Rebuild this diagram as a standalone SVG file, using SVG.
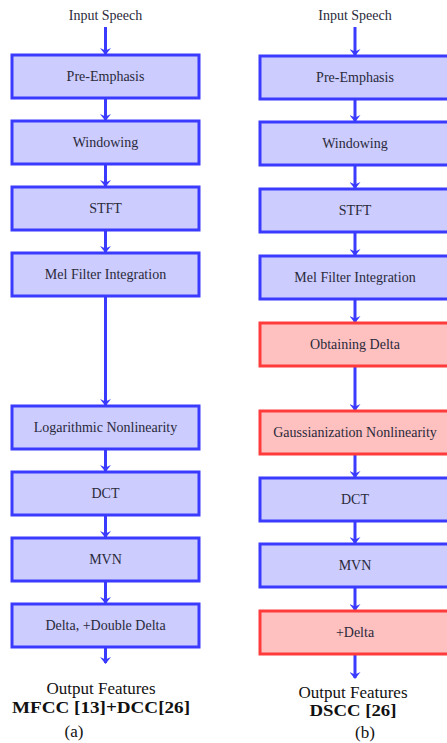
<svg xmlns="http://www.w3.org/2000/svg" width="447" height="743" viewBox="0 0 447 743">
<style>
.b{fill:#ccccff;stroke:#3b3bff;stroke-width:3}
.r{fill:#ffc0c0;stroke:#ff3b3b;stroke-width:3}
text{font-family:'Liberation Serif','Times New Roman','DejaVu Serif',serif}
.t{font-size:14px;fill:#2a2a3a;text-anchor:middle}
.o{font-size:17px;fill:#111;text-anchor:middle}
.ob{font-size:17px;font-weight:bold;fill:#111;text-anchor:middle}
.c{stroke:#3b3bff;stroke-width:3;fill:none;marker-end:url(#ah)}
</style>
<defs>
<marker id="ah" viewBox="0 0 7 11" refX="6" refY="5.5" markerWidth="7" markerHeight="11" markerUnits="userSpaceOnUse" orient="auto">
<path d="M0,0 L7,5.5 L0,11 L2.5,5.5 Z" fill="#3b3bff"/>
</marker>
</defs>
<rect width="447" height="743" fill="#fff"/>

<g id="connectors">
<line class="c" x1="105.5" y1="27" x2="105.5" y2="54"/>
<line class="c" x1="105.5" y1="98" x2="105.5" y2="120"/>
<line class="c" x1="105.5" y1="164" x2="105.5" y2="186"/>
<line class="c" x1="105.5" y1="230" x2="105.5" y2="252"/>
<line class="c" x1="105.5" y1="296" x2="105.5" y2="405"/>
<line class="c" x1="105.5" y1="449" x2="105.5" y2="471"/>
<line class="c" x1="105.5" y1="515" x2="105.5" y2="537"/>
<line class="c" x1="105.5" y1="581" x2="105.5" y2="603"/>
<line class="c" x1="105.5" y1="647" x2="105.5" y2="663"/>

<line class="c" x1="355" y1="27" x2="355" y2="55"/>
<line class="c" x1="355" y1="99" x2="355" y2="121"/>
<line class="c" x1="355" y1="165" x2="355" y2="188"/>
<line class="c" x1="355" y1="232" x2="355" y2="255"/>
<line class="c" x1="355" y1="299" x2="355" y2="322"/>
<line class="c" x1="355" y1="366" x2="355" y2="410"/>
<line class="c" x1="355" y1="454" x2="355" y2="477"/>
<line class="c" x1="355" y1="521" x2="355" y2="543"/>
<line class="c" x1="355" y1="587" x2="355" y2="610"/>
<line class="c" x1="355" y1="654" x2="355" y2="678"/>
</g>

<g id="a-input"><text class="t" x="105.5" y="20">Input Speech</text></g>
<g id="a-pre"><rect class="b" x="12" y="55" width="187" height="43"/><text class="t" x="105.5" y="81">Pre-Emphasis</text></g>
<g id="a-win"><rect class="b" x="12" y="121" width="187" height="43"/><text class="t" x="105.5" y="147">Windowing</text></g>
<g id="a-stft"><rect class="b" x="12" y="187" width="187" height="43"/><text class="t" x="105.5" y="213">STFT</text></g>
<g id="a-mel"><rect class="b" x="12" y="253" width="187" height="43"/><text class="t" x="105.5" y="279">Mel Filter Integration</text></g>
<g id="a-log"><rect class="b" x="12" y="406" width="187" height="43"/><text class="t" x="105.5" y="432">Logarithmic Nonlinearity</text></g>
<g id="a-dct"><rect class="b" x="12" y="472" width="187" height="43"/><text class="t" x="105.5" y="498">DCT</text></g>
<g id="a-mvn"><rect class="b" x="12" y="538" width="187" height="43"/><text class="t" x="105.5" y="564">MVN</text></g>
<g id="a-delta"><rect class="b" x="12" y="604" width="187" height="43"/><text class="t" x="105.5" y="630">Delta, +Double Delta</text></g>
<g id="a-out">
<text class="o" x="101" y="694">Output Features</text>
<text class="ob" x="101" y="713" textLength="178" lengthAdjust="spacingAndGlyphs">MFCC [13]+DCC[26]</text>
<text class="o" x="74" y="737">(a)</text>
</g>

<g id="b-input"><text class="t" x="355" y="20">Input Speech</text></g>
<g id="b-pre"><rect class="b" x="260" y="56" width="190" height="43"/><text class="t" x="355" y="82">Pre-Emphasis</text></g>
<g id="b-win"><rect class="b" x="260" y="122" width="190" height="43"/><text class="t" x="355" y="148">Windowing</text></g>
<g id="b-stft"><rect class="b" x="260" y="189" width="190" height="43"/><text class="t" x="355" y="215">STFT</text></g>
<g id="b-mel"><rect class="b" x="260" y="256" width="190" height="43"/><text class="t" x="355" y="282">Mel Filter Integration</text></g>
<g id="b-obt"><rect class="r" x="260" y="323" width="190" height="43"/><text class="t" x="355" y="349">Obtaining Delta</text></g>
<g id="b-gauss"><rect class="r" x="260" y="411" width="190" height="43"/><text class="t" x="355" y="437">Gaussianization Nonlinearity</text></g>
<g id="b-dct"><rect class="b" x="260" y="478" width="190" height="43"/><text class="t" x="355" y="504">DCT</text></g>
<g id="b-mvn"><rect class="b" x="260" y="544" width="190" height="43"/><text class="t" x="355" y="570">MVN</text></g>
<g id="b-delta"><rect class="r" x="260" y="611" width="190" height="43"/><text class="t" x="355" y="637">+Delta</text></g>
<g id="b-out">
<text class="o" x="353" y="698">Output Features</text>
<text class="ob" x="353" y="716" textLength="87" lengthAdjust="spacingAndGlyphs">DSCC [26]</text>
<text class="o" x="365" y="738">(b)</text>
</g>
</svg>
